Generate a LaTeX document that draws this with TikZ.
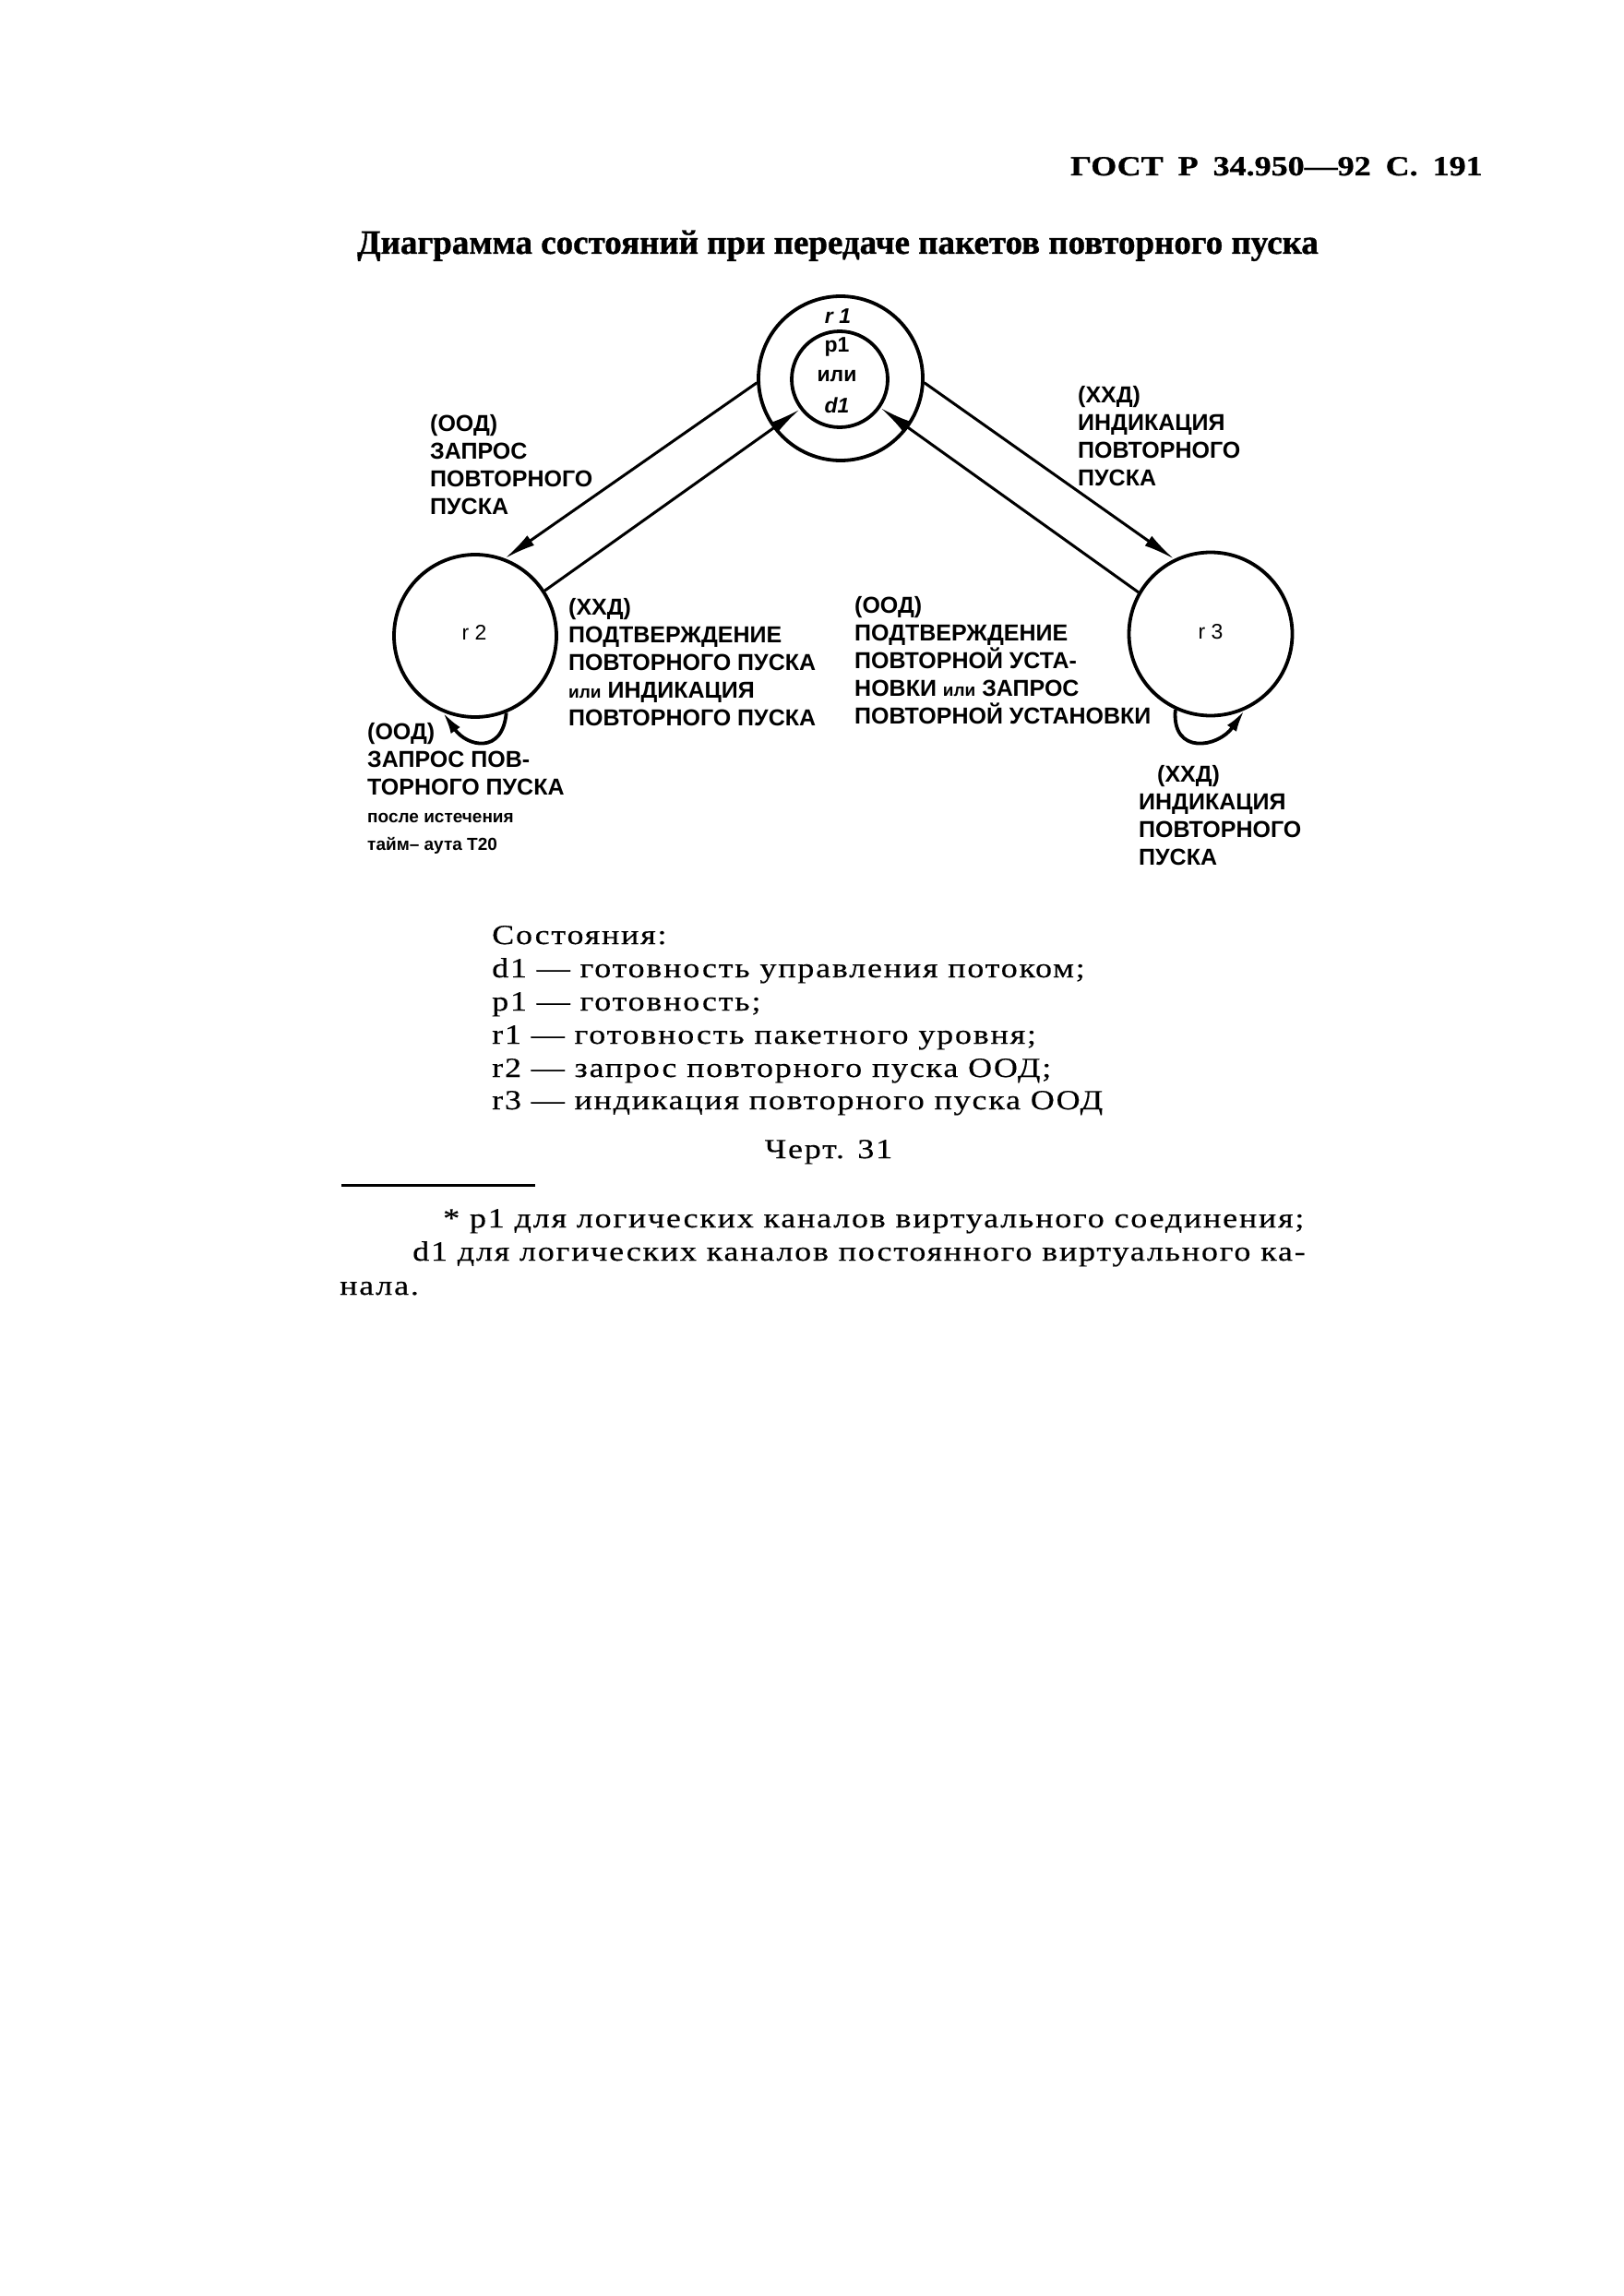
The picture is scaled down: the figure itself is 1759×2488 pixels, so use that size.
\documentclass[tikz,border=0pt]{standalone}
\usepackage{fontspec}
\setmainfont{Liberation Serif}
\newfontfamily\lblfont{Liberation Sans}
\newfontfamily\hdfont[FakeStretch=1.2,BoldFeatures={FakeBold=1}]{Liberation Serif}
\newfontfamily\ttlfont[BoldFeatures={FakeBold=1}]{Liberation Serif}
\newfontfamily\lgfont[FakeStretch=1.2,LetterSpace=6,FakeBold=0.4]{Liberation Serif}
\usetikzlibrary{arrows.meta}
\newcommand\smtxt[1]{{\fontsize{19}{30}\selectfont #1}}
\begin{document}
\begin{tikzpicture}[x=1pt,y=-1pt,
  state/.style={circle,draw,line width=3.8pt,inner sep=0pt},
  tr/.style={line width=3pt,-{Latex[length=34pt,width=13pt]}},
  lp/.style={line width=3.8pt,-{Latex[length=24pt,width=12pt]}},
  lab/.style={anchor=north west,inner sep=0pt,align=left,font=\lblfont\bfseries\fontsize{25}{30}\selectfont},
  inlab/.style={anchor=base,inner sep=0pt,font=\lblfont\bfseries\fontsize{23}{27}\selectfont},
  stlab/.style={anchor=base,inner sep=0pt,font=\lblfont\fontsize{23}{27}\selectfont},
  leg/.style={anchor=base west,inner sep=0pt,font=\lgfont\fontsize{30}{36}\selectfont}
]
\fill[white] (0,0) rectangle (1759,2488);
\useasboundingbox (0,0) rectangle (1759,2488);

% header and title
\node[anchor=base west,inner sep=0pt,font=\hdfont\bfseries\fontsize{30}{34}\selectfont] (hdr) at (1160,190)
  {ГОСТ\hspace{16pt}Р\hspace{16pt}34.950—92\hspace{16pt}С.\hspace{16pt}191};
\node[anchor=base west,inner sep=0pt,font=\ttlfont\bfseries\fontsize{37}{44}\selectfont] (title) at (387,275)
  {Диаграмма состояний при передаче пакетов повторного пуска};

% states
\node[state,minimum size=178pt] (r1out) at (911,410) {};
\node[state,minimum size=104pt] (r1in) at (910,411) {};
\node[state,minimum size=176pt] (r2) at (515,689) {};
\node[state,minimum size=177pt] (r3) at (1312,687) {};

\node[inlab,font=\lblfont\bfseries\itshape\fontsize{23}{27}\selectfont] (r1lab) at (908,350) {r 1};
\node[inlab] (p1lab) at (907,381) {p1};
\node[inlab] (orlab) at (907,413) {или};
\node[inlab,font=\lblfont\bfseries\itshape\fontsize{23}{27}\selectfont] (d1lab) at (907,447) {d1};
\node[stlab] (r2lab) at (514,693) {r 2};
\node[stlab] (r3lab) at (1312,692) {r 3};

% transitions
\draw[tr] (r1out.183) -- (r2.69);
\draw[tr] (r2.33) -- (r1in.217);
\draw[tr] (r3.150) -- (r1in.-35);
\draw[tr] (r1out.-3) -- (r3.116);
\draw[lp] (r2.-68) to[out=-95,in=-55,looseness=1.7] (r2.-113);
\draw[lp] (r3.-115) to[out=-95,in=-125,looseness=1.7] (r3.-66);

% transition labels
\node[lab] (labA) at (466,449) {(ООД)\\ЗАПРОС\\ПОВТОРНОГО\\ПУСКА};
\node[lab] (labB) at (1168,418) {(ХХД)\\ИНДИКАЦИЯ\\ПОВТОРНОГО\\ПУСКА};
\node[lab] (labC) at (616,648) {(ХХД)\\ПОДТВЕРЖДЕНИЕ\\ПОВТОРНОГО ПУСКА\\\smtxt{или} ИНДИКАЦИЯ\\ПОВТОРНОГО ПУСКА};
\node[lab] (labD) at (926,646) {(ООД)\\ПОДТВЕРЖДЕНИЕ\\ПОВТОРНОЙ УСТА-\\НОВКИ \smtxt{или} ЗАПРОС\\ПОВТОРНОЙ УСТАНОВКИ};
\node[lab] (labE) at (398,783) {(ООД)\\ЗАПРОС ПОВ-\\ТОРНОГО ПУСКА\\\smtxt{после истечения}\\\smtxt{тайм– аута Т20}};
\node[lab] (labF) at (1234,829) {\hspace*{20pt}(ХХД)\\ИНДИКАЦИЯ\\ПОВТОРНОГО\\ПУСКА};

% legend
\node[leg] (lg0) at (533,1023) {Состояния:};
\node[leg] (lg1) at (533,1059) {d1 — готовность управления потоком;};
\node[leg] (lg2) at (533,1095) {p1 — готовность;};
\node[leg] (lg3) at (533,1131) {r1 — готовность пакетного уровня;};
\node[leg] (lg4) at (533,1167) {r2 — запрос повторного пуска ООД;};
\node[leg] (lg5) at (533,1202) {r3 — индикация повторного пуска ООД};
\node[leg,anchor=base] (fig) at (898,1255) {Черт. 31};

% footnote
\draw[line width=3pt] (370,1284) -- (580,1284);
\node[leg] (fn1) at (480,1330) {* p1 для логических каналов виртуального соединения;};
\node[leg] (fn2) at (447,1366) {d1 для логических каналов постоянного виртуального ка-};
\node[leg] (fn3) at (368,1403) {нала.};
\end{tikzpicture}
\end{document}
